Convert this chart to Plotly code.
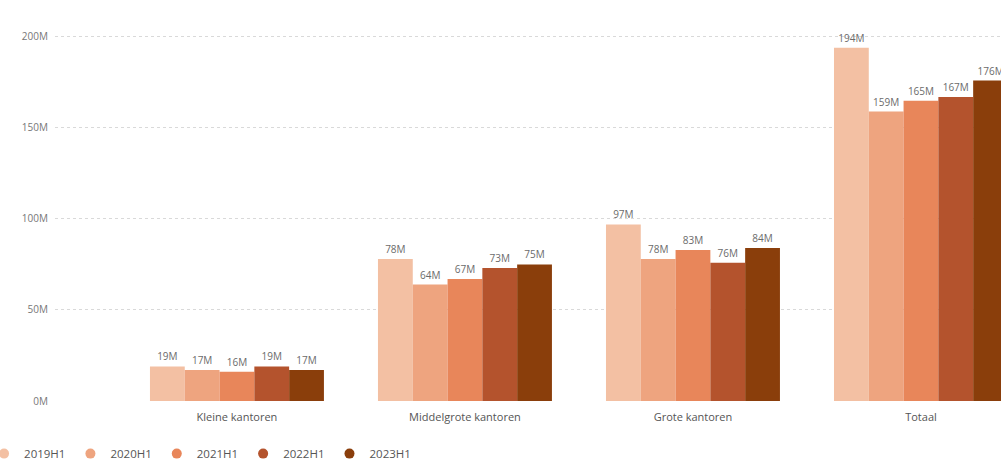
import plotly.graph_objects as go

categories = ["Kleine kantoren", "Middelgrote kantoren", "Grote kantoren", "Totaal"]
series_names = ["2019H1", "2020H1", "2021H1", "2022H1", "2023H1"]
v2019 = [19, 78, 97, 194]
v2020 = [17, 64, 78, 159]
v2021 = [16, 67, 83, 165]
v2022 = [19, 73, 76, 167]
v2023 = [17, 75, 84, 176]
series_values = [v2019, v2020, v2021, v2022, v2023]
colors = ["#F3C0A3", "#EEA47F", "#E8865A", "#B4532D", "#8A3E0B"]
y_tickvals = [0, 50, 100, 150, 200]
y_ticktext = ["0M", "50M", "100M", "150M", "200M"]

FONT = "Segoe UI, Open Sans, sans-serif"

fig = go.Figure()
for name, vals, col in zip(series_names, series_values, colors):
    fig.add_trace(go.Bar(
        x=categories, y=vals, name=name, marker_color=col, marker_line_width=0,
        text=[f"{v}M" for v in vals], textposition="outside",
        textfont=dict(size=10, color="#6b6b6b", family=FONT),
        constraintext="none", cliponaxis=False, showlegend=False,
    ))
for name, col in zip(series_names, colors):
    fig.add_trace(go.Scatter(
        x=[None], y=[None], mode="markers", name=name,
        marker=dict(symbol="circle", size=10, color=col), showlegend=True,
    ))

fig.update_layout(
    width=1001, height=461,
    margin=dict(l=55, r=0, t=20, b=60, autoexpand=False),
    paper_bgcolor="white", plot_bgcolor="white",
    barmode="group", bargap=0.237, bargroupgap=0,
    font=dict(family=FONT, color="#666"),
    legend=dict(orientation="h", x=-0.075, xanchor="left", y=-0.1, yanchor="top",
                font=dict(size=11.5, color="#555", family=FONT),
                itemwidth=30, tracegroupgap=0, itemclick=False),
    showlegend=True,
)
fig.update_xaxes(
    type="category", range=[-0.798, 3.351], showgrid=False, showline=False,
    ticks="", ticklabelstandoff=8, tickfont=dict(size=11, color="#555", family=FONT),
)
fig.update_yaxes(
    range=[0, 209.3], tickvals=y_tickvals, ticktext=y_ticktext,
    showgrid=True, gridcolor="#d9d9d9", griddash="dot", gridwidth=1,
    zeroline=False, showline=False, ticks="", ticklabelstandoff=6,
    tickfont=dict(size=10, color="#777", family=FONT),
)

fig.write_html("out.html", config={"displayModeBar": False},
               post_script="document.body.style.margin='0';document.body.style.overflow='hidden';")
